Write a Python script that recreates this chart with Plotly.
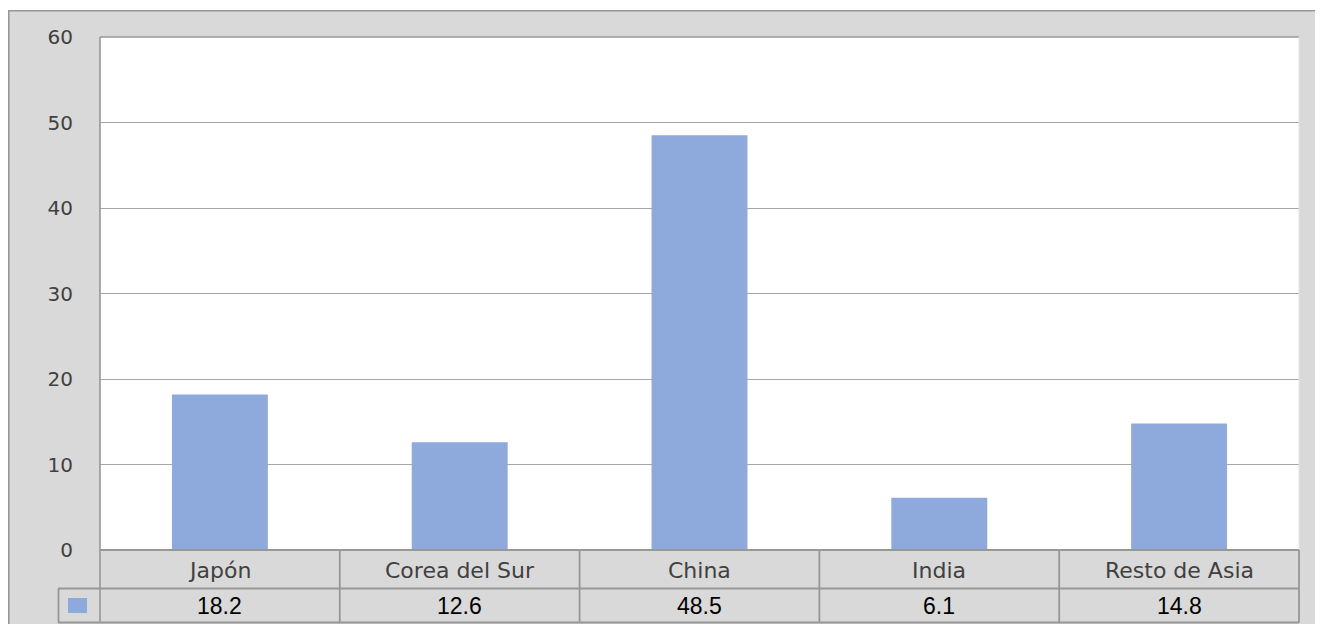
import plotly.graph_objects as go

categories = ["Japón", "Corea del Sur", "China", "India", "Resto de Asia"]
values = [18.2, 12.6, 48.5, 6.1, 14.8]
value_labels = ["18.2", "12.6", "48.5", "6.1", "14.8"]
y_ticks = [0, 10, 20, 30, 40, 50, 60]

# the page places the figure at (8, 8) on screen
OX, OY = 8, 8
W, H = 1307, 616
# plot area in screen px
L, R, T, B = 100, 1299, 37, 550
TB = 622.5  # bottom line of the data table (screen px)

def px(xs):
    return (xs - L) / (R - L)

def py(ys):
    return (B - ys) / (B - T)

BAR = "#8EA9DB"
GRID = "#a6a6a6"
LINE = "#979797"

fig = go.Figure()
fig.add_trace(go.Bar(x=categories, y=values, width=0.4,
                     marker=dict(color=BAR, line=dict(width=0)),
                     showlegend=False, hoverinfo="x+y"))

shapes = []
# white strip above the outer box
shapes.append(dict(type="rect", xref="paper", yref="paper", x0=px(0), x1=px(1400), y0=py(10), y1=py(0),
                   fillcolor="white", line=dict(width=0)))
# outer border
shapes.append(dict(type="line", xref="paper", yref="paper", x0=px(8), x1=px(1400), y0=py(10.8), y1=py(10.8),
                   line=dict(color=LINE, width=1.6)))
shapes.append(dict(type="line", xref="paper", yref="paper", x0=px(8.8), x1=px(8.8), y0=py(10), y1=py(700),
                   line=dict(color=LINE, width=1.6)))
# plot area left & top border
shapes.append(dict(type="line", xref="paper", yref="paper", x0=0, x1=0, y0=1, y1=py(TB),
                   line=dict(color=LINE, width=1.6)))
shapes.append(dict(type="line", xref="paper", yref="paper", x0=0, x1=1, y0=1, y1=1,
                   line=dict(color=LINE, width=1.6)))
shapes.append(dict(type="line", xref="paper", yref="paper", x0=1, x1=1, y0=1, y1=0,
                   line=dict(color="#e6e6e6", width=1)))
# table horizontal lines
shapes.append(dict(type="line", xref="paper", yref="paper", x0=0, x1=1, y0=0, y1=0,
                   line=dict(color=LINE, width=1.8)))
shapes.append(dict(type="line", xref="paper", yref="paper", x0=px(58), x1=1, y0=py(588.5), y1=py(588.5),
                   line=dict(color=LINE, width=1.8)))
shapes.append(dict(type="line", xref="paper", yref="paper", x0=px(58), x1=1, y0=py(TB), y1=py(TB),
                   line=dict(color=LINE, width=1.8)))
# table vertical lines
shapes.append(dict(type="line", xref="paper", yref="paper", x0=px(58.5), x1=px(58.5), y0=py(588.5), y1=py(TB),
                   line=dict(color=LINE, width=1.8)))
shapes.append(dict(type="line", xref="paper", yref="paper", x0=1, x1=1, y0=0, y1=py(TB),
                   line=dict(color=LINE, width=1.8)))
for i in range(len(categories) - 1):
    shapes.append(dict(type="line", xref="x", yref="paper", x0=i + 0.5, x1=i + 0.5, y0=0, y1=py(TB),
                       line=dict(color=LINE, width=1.8)))
# legend key
shapes.append(dict(type="rect", xref="paper", yref="paper", x0=px(68), x1=px(87), y0=py(613), y1=py(598),
                   fillcolor=BAR, line=dict(width=0)))

annotations = []
for c in categories:
    annotations.append(dict(x=c, xref="x", y=py(570), yref="paper", text=c, showarrow=False,
                            xanchor="center", yanchor="middle",
                            font=dict(family="DejaVu Sans", size=22, color="#404040")))
for c, v in zip(categories, value_labels):
    annotations.append(dict(x=c, xref="x", y=py(606), yref="paper", text=v, showarrow=False,
                            xanchor="center", yanchor="middle",
                            font=dict(family="Liberation Sans, Arial", size=23, color="#000000")))

fig.update_layout(
    width=W, height=H,
    margin=dict(l=L - OX, r=W - (R - OX), t=T - OY, b=H - (B - OY), pad=0),
    paper_bgcolor="#d9d9d9",
    plot_bgcolor="white",
    shapes=shapes,
    annotations=annotations,
    xaxis=dict(range=[-0.5, len(categories) - 0.5], showticklabels=False, showgrid=False,
               zeroline=False, showline=False, ticks=""),
    yaxis=dict(range=[0, 60], tickvals=y_ticks, showgrid=True, gridcolor=GRID, gridwidth=1.2,
               zeroline=False, showline=False, ticks="", ticklabelstandoff=26,
               tickfont=dict(family="DejaVu Sans", size=20, color="#404040")),
)

fig.write_html("out.html")
